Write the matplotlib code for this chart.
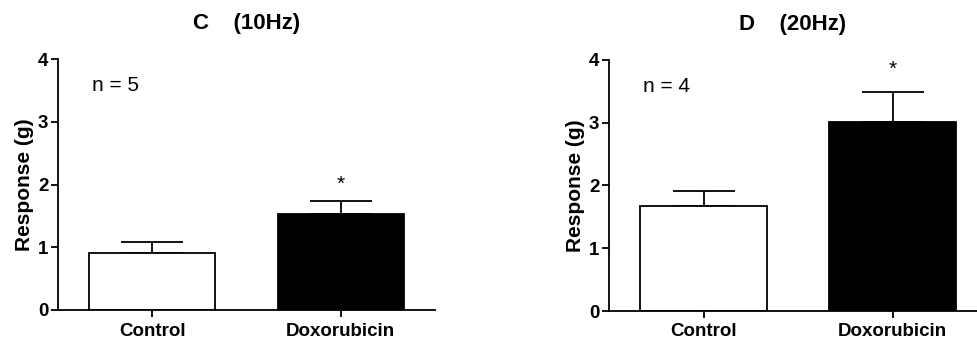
import matplotlib
matplotlib.use("Agg")
import matplotlib.pyplot as plt

plt.rcParams['font.family'] = ['Liberation Sans', 'DejaVu Sans']

categories = ["Control", "Doxorubicin"]
c_values = [0.91, 1.53]
c_errors = [0.17, 0.21]
d_values = [1.68, 3.01]
d_errors = [0.23, 0.48]
yticks = [0, 1, 2, 3, 4]
colors = ["white", "black"]

fig = plt.figure(figsize=(9.77, 3.43), dpi=100)
W, H = 977, 343

def make_panel(rect, values, errors, title, ntext, xmax, star_y):
    ax = fig.add_axes(rect)
    x = list(range(len(categories)))
    ax.bar(x, values, width=0.667, color=colors, edgecolor="black", linewidth=1.3, zorder=2)
    ax.errorbar(x, values, yerr=[[0, 0], errors], fmt="none", ecolor="black",
                elinewidth=1.3, capsize=22.5, capthick=1.3, zorder=1)
    ax.set_xlim(-0.5, xmax)
    ax.set_ylim(0, 4)
    ax.set_yticks(yticks)
    ax.set_xticks(x)
    ax.set_xticklabels(categories, fontsize=13.5, fontweight="bold")
    for lab in ax.get_yticklabels():
        lab.set_fontsize(13.5)
        lab.set_fontweight("bold")
    ax.spines["top"].set_visible(False)
    ax.spines["right"].set_visible(False)
    ax.spines["left"].set_linewidth(1.3)
    ax.spines["bottom"].set_linewidth(1.3)
    ax.tick_params(axis="both", width=1.3, length=5, pad=2)
    ax.tick_params(axis="x", pad=4)
    ax.set_ylabel("Response (g)", fontsize=15, fontweight="bold", labelpad=3)
    ax.text(-0.32, 3.58, ntext, fontsize=15, ha="left", va="center")
    ax.text(1, star_y, "*", fontsize=15, ha="center", va="center")
    ax.set_title(title, fontsize=16, fontweight="bold", pad=21.5)
    return ax

ax1 = make_panel([58 / W, 33 / H, 377 / W, 251 / H], c_values, c_errors,
                 "C    (10Hz)", "n = 5", 1.5, 2.0)
ax2 = make_panel([609 / W, 32 / H, 368 / W, 251 / H], d_values, d_errors,
                 "D    (20Hz)", "n = 4", 1.447, 3.85)

fig.savefig("out.png", dpi=100)
